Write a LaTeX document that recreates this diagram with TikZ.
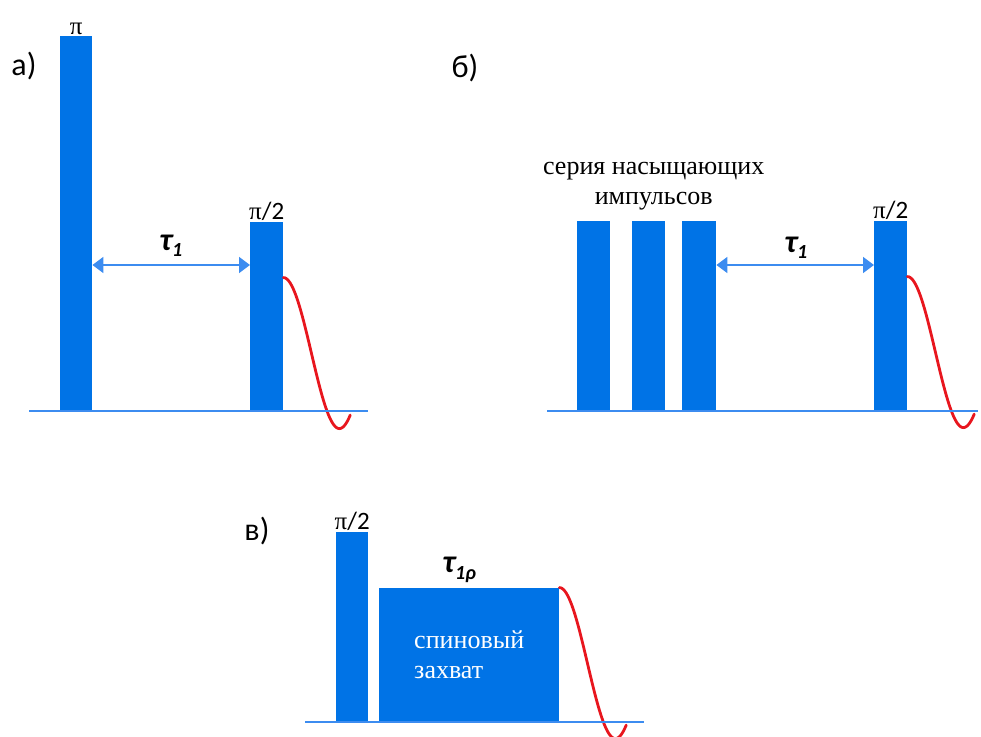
\documentclass[tikz,border=0pt]{standalone}
\usepackage{fontspec}
\setmainfont{Carlito}
\newfontfamily\serifcyr{Liberation Serif}
\usetikzlibrary{arrows.meta, positioning}
\definecolor{pulseblue}{RGB}{0,115,230}
\definecolor{lineblue}{RGB}{60,140,240}
\definecolor{fidred}{RGB}{232,22,30}

\begin{document}
\begin{tikzpicture}[x=1pt, y=1pt,
    pulse/.style={rectangle, fill=pulseblue, inner sep=0pt, anchor=south west},
    axis/.style={lineblue, line width=1.6pt},
    span/.style={{Triangle[length=11pt,width=16pt]}-{Triangle[length=11pt,width=16pt]}, lineblue, line width=1.6pt},
    fid/.style={fidred, line width=2.8pt, line cap=round},
    tag/.style={font=\fontsize{32}{34}\selectfont, inner sep=0pt},
    angle/.style={font=\fontsize{25}{27}\selectfont, inner sep=1pt},
    tau/.style={font=\fontsize{32}{34}\selectfont\bfseries\itshape, inner sep=0pt},
    note/.style={font=\fontsize{26}{30}\selectfont\serifcyr, inner sep=0pt}
]
    \useasboundingbox (0,0) rectangle (981,736);

    % Panel a
    \node[tag] (tagA) at (24,670) {а)};
    \node[pulse, minimum width=32pt, minimum height=375pt] (piA) at (60,325) {};
    \node[pulse, minimum width=33pt, minimum height=189pt] (halfA) at (250,325) {};
    \node[angle, above=0pt of piA] (piAlbl) {{\serifcyr π}};
    \node[angle, above=0pt of halfA] (halfAlbl) {{\serifcyr π}/2};
    \node[tau] (tauA) at (171,490) {τ\raisebox{-6pt}{\fontsize{20}{20}\selectfont 1}};
    \coordinate (lvlA) at (0,471);
    \draw[span] (piA.east |- lvlA) -- (halfA.west |- lvlA);
    \draw[fid, shift={(halfA.north east)}, yshift=-56pt] plot[domain=0:3.75, samples=50, smooth] ({56*\x/pi}, {75.5*cos(\x r)-75.5});
    \draw[axis] (29,325) -- (368,325);

    % Panel b
    \node[tag] (tagB) at (465,668) {б)};
    \node[pulse, minimum width=33pt, minimum height=190pt] (satA) at (577,325) {};
    \node[pulse, minimum width=33pt, minimum height=190pt] (satB) at (632,325) {};
    \node[pulse, minimum width=34pt, minimum height=190pt] (satC) at (682,325) {};
    \node[pulse, minimum width=33pt, minimum height=190pt] (halfB) at (874,325) {};
    \node[note, align=center, above=10pt of satB, xshift=5pt] (satLbl) {серия насыщающих\\импульсов};
    \node[angle, above=0pt of halfB] (halfBlbl) {{\serifcyr π}/2};
    \node[tau] (tauB) at (796,488) {τ\raisebox{-6pt}{\fontsize{20}{20}\selectfont 1}};
    \coordinate (lvlB) at (0,471);
    \draw[span] (satC.east |- lvlB) -- (halfB.west |- lvlB);
    \draw[fid, shift={(halfB.north east)}, yshift=-56pt] plot[domain=0:3.75, samples=50, smooth] ({56*\x/pi}, {75.5*cos(\x r)-75.5});
    \draw[axis] (547,325) -- (978,325);

    % Panel c
    \node[tag] (tagC) at (257,205) {в)};
    \node[pulse, minimum width=32pt, minimum height=190pt] (halfC) at (336,14) {};
    \node[pulse, minimum width=180pt, minimum height=134pt] (lock) at (379,14) {};
    \node[angle, above=0pt of halfC] (halfClbl) {{\serifcyr π}/2};
    \node[tau, above=5pt of lock, xshift=-10pt] (tauC) {τ\raisebox{-7pt}{\fontsize{20}{20}\selectfont 1ρ}};
    \node[note, align=left, text=white] (lockLbl) at (lock.center) {спиновый\\захват};
    \draw[fid, shift={(lock.north east)}] plot[domain=0:3.75, samples=50, smooth] ({56*\x/pi}, {75.5*cos(\x r)-75.5});
    \draw[axis] (305,14) -- (644,14);
\end{tikzpicture}
\end{document}
